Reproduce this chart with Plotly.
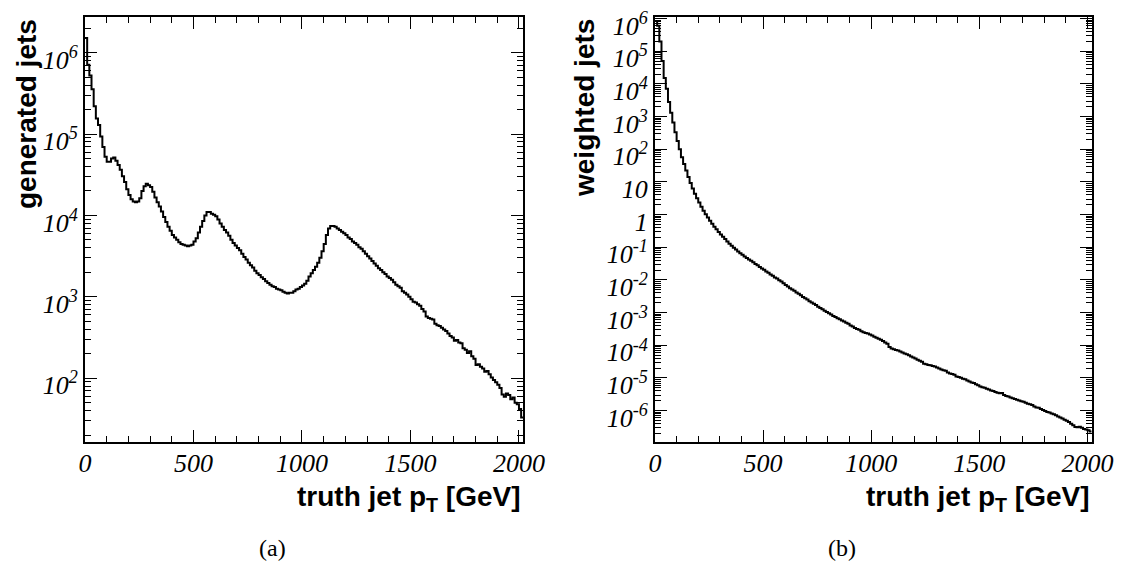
import numpy as np
import plotly.graph_objects as go
from plotly.subplots import make_subplots

# 10 GeV bins from 0 to 2020 GeV
bin_edges = list(range(0, 2030, 10))

gen_jets = [
    1.51e6, 7.08e5, 5.25e5, 3.55e5, 2.19e5, 1.55e5, 1.29e5, 9.33e4, 6.92e4, 5.25e4,
    4.57e4, 4.57e4, 5.01e4, 5.13e4, 4.68e4, 4.17e4, 3.63e4, 3.02e4, 2.57e4, 2.09e4,
    1.78e4, 1.58e4, 1.48e4, 1.45e4, 1.48e4, 1.62e4, 2.00e4, 2.29e4, 2.45e4, 2.34e4,
    2.24e4, 1.95e4, 1.66e4, 1.45e4, 1.29e4, 1.12e4, 9.55e3, 8.32e3, 7.24e3, 6.46e3,
    5.75e3, 5.37e3, 5.01e3, 4.68e3, 4.47e3, 4.37e3, 4.27e3, 4.17e3, 4.27e3, 4.37e3,
    4.79e3, 5.25e3, 6.17e3, 7.24e3, 8.51e3, 1.00e4, 1.10e4, 1.10e4, 1.05e4, 1.02e4,
    9.77e3, 8.91e3, 7.94e3, 7.24e3, 6.61e3, 6.17e3, 5.62e3, 5.01e3, 4.57e3, 4.27e3,
    3.98e3, 3.72e3, 3.39e3, 3.09e3, 2.88e3, 2.63e3, 2.45e3, 2.29e3, 2.09e3, 1.95e3,
    1.86e3, 1.74e3, 1.66e3, 1.55e3, 1.48e3, 1.41e3, 1.35e3, 1.32e3, 1.26e3, 1.23e3,
    1.20e3, 1.15e3, 1.12e3, 1.10e3, 1.12e3, 1.12e3, 1.17e3, 1.23e3, 1.26e3, 1.32e3,
    1.38e3, 1.45e3, 1.58e3, 1.78e3, 1.95e3, 2.14e3, 2.34e3, 2.63e3, 3.02e3, 3.63e3,
    4.47e3, 5.75e3, 6.92e3, 7.41e3, 7.41e3, 7.24e3, 6.92e3, 6.61e3, 6.31e3, 6.03e3,
    5.75e3, 5.37e3, 5.13e3, 4.79e3, 4.57e3, 4.37e3, 4.07e3, 3.89e3, 3.63e3, 3.39e3,
    3.16e3, 2.95e3, 2.75e3, 2.57e3, 2.40e3, 2.24e3, 2.14e3, 2.00e3, 1.91e3, 1.78e3,
    1.70e3, 1.62e3, 1.51e3, 1.41e3, 1.35e3, 1.29e3, 1.17e3, 1.12e3, 1.07e3, 1.00e3,
    933, 871, 851, 813, 776, 708, 661, 575, 550, 537,
    525, 468, 447, 437, 417, 398, 380, 355, 331, 316,
    288, 295, 275, 269, 234, 224, 204, 214, 186, 174,
    145, 148, 138, 132, 120, 123, 112, 102, 95, 89,
    83, 76, 63, 59, 65, 62, 55, 58, 50, 48,
    42, 33,
]

weighted_jets = [
    8.51e5, 6.03e5, 2.00e5, 5.01e4, 1.51e4, 7.08e3, 2.82e3, 1.32e3, 661, 331,
    178, 100, 57.5, 35.5, 22.4, 14.1, 9.33, 6.31, 4.37, 3.16,
    2.34, 1.74, 1.32, 1.02, 0.813, 0.646, 0.525, 0.427, 0.355, 0.295,
    0.245, 0.209, 0.178, 0.151, 0.129, 0.112, 9.77e-2, 8.51e-2, 7.41e-2, 6.61e-2,
    5.89e-2, 5.25e-2, 4.68e-2, 4.27e-2, 3.89e-2, 3.47e-2, 3.09e-2, 2.82e-2, 2.51e-2, 2.24e-2,
    2.04e-2, 1.82e-2, 1.66e-2, 1.48e-2, 1.35e-2, 1.20e-2, 1.10e-2, 9.77e-3, 8.91e-3, 7.94e-3,
    7.08e-3, 6.31e-3, 5.62e-3, 5.13e-3, 4.68e-3, 4.17e-3, 3.80e-3, 3.39e-3, 3.02e-3, 2.75e-3,
    2.51e-3, 2.24e-3, 2.04e-3, 1.86e-3, 1.70e-3, 1.51e-3, 1.38e-3, 1.26e-3, 1.15e-3, 1.05e-3,
    9.55e-4, 8.71e-4, 7.94e-4, 7.41e-4, 6.76e-4, 6.31e-4, 5.75e-4, 5.37e-4, 4.90e-4, 4.57e-4,
    4.07e-4, 3.80e-4, 3.39e-4, 3.16e-4, 3.02e-4, 2.69e-4, 2.51e-4, 2.40e-4, 2.29e-4, 2.14e-4,
    2.00e-4, 1.82e-4, 1.70e-4, 1.58e-4, 1.48e-4, 1.35e-4, 1.23e-4, 1.12e-4, 8.91e-5, 7.94e-5,
    7.59e-5, 7.24e-5, 6.92e-5, 6.46e-5, 6.03e-5, 5.62e-5, 5.37e-5, 5.01e-5, 4.57e-5, 4.27e-5,
    3.98e-5, 3.63e-5, 3.39e-5, 3.16e-5, 2.75e-5, 2.63e-5, 2.51e-5, 2.45e-5, 2.34e-5, 2.24e-5,
    2.09e-5, 1.95e-5, 1.82e-5, 1.74e-5, 1.66e-5, 1.48e-5, 1.38e-5, 1.32e-5, 1.26e-5, 1.12e-5,
    1.07e-5, 1.02e-5, 9.55e-6, 9.12e-6, 8.32e-6, 7.76e-6, 7.24e-6, 7.08e-6, 6.46e-6, 6.03e-6,
    5.50e-6, 5.25e-6, 5.01e-6, 4.68e-6, 4.47e-6, 4.17e-6, 3.98e-6, 3.72e-6, 3.55e-6, 3.39e-6,
    3.47e-6, 3.02e-6, 2.82e-6, 2.69e-6, 2.51e-6, 2.40e-6, 2.29e-6, 2.14e-6, 2.04e-6, 1.95e-6,
    1.86e-6, 1.74e-6, 1.62e-6, 1.58e-6, 1.48e-6, 1.35e-6, 1.26e-6, 1.23e-6, 1.12e-6, 1.05e-6,
    9.77e-7, 9.12e-7, 8.71e-7, 8.13e-7, 7.76e-7, 7.24e-7, 6.61e-7, 6.17e-7, 5.75e-7, 5.25e-7,
    4.90e-7, 4.47e-7, 3.98e-7, 3.55e-7, 3.16e-7, 3.09e-7, 3.24e-7, 3.02e-7, 2.75e-7, 2.63e-7,
    2.51e-7, 2.29e-7,
]

x_ticks = [0, 500, 1000, 1500, 2000]
gen_decades = [2, 3, 4, 5, 6]
weighted_decades = [-6, -5, -4, -3, -2, -1, 0, 1, 2, 3, 4, 5, 6]

# the page body has an 8px margin: the figure starts at (8, 8) on the page
PAGE_W, PAGE_H, PAD = 1125, 563, 8
FW, FH = PAGE_W - 2 * PAD, PAGE_H - PAD
TICK_FONT = dict(family="Liberation Serif", size=26, color="black", style="italic")
TITLE_FONT = dict(family="Liberation Sans", size=28, color="black")


def px(x):
    return (x - PAD) / FW


def py(y):
    return 1 - (y - PAD) / FH


def decade_label(d):
    if d == 0:
        return "1"
    if d == 1:
        return "10"
    return "10<sup>%d</sup>" % d


def minor_log_ticks(lo, hi):
    vals = []
    for d in range(int(np.floor(lo)), int(np.ceil(hi)) + 1):
        for m in range(2, 10):
            v = m * 10.0 ** d
            if lo <= np.log10(v) <= hi:
                vals.append(v)
    return vals


def step_xy(edges, values):
    return list(edges), list(values) + [values[-1]]


fig = make_subplots(rows=1, cols=2)

for col, vals in [(1, gen_jets), (2, weighted_jets)]:
    xs, ys = step_xy(bin_edges, vals)
    fig.add_trace(
        go.Scatter(
            x=xs,
            y=ys,
            mode="lines",
            line=dict(color="black", width=2, shape="hv"),
            showlegend=False,
        ),
        row=1,
        col=col,
    )

y_dom = [py(441.7), py(17.3)]
panels = [
    dict(col=1, xdom=[px(85), px(523.3)], yrange=[1.22, 6.434], decades=gen_decades),
    dict(col=2, xdom=[px(655), px(1091.7)], yrange=[-6.95, 6.04], decades=weighted_decades),
]

for p in panels:
    fig.update_xaxes(
        domain=p["xdom"],
        range=[0, 2020],
        tickvals=x_ticks,
        ticktext=[str(v) for v in x_ticks],
        ticks="inside",
        ticklen=12,
        tickwidth=1,
        tickcolor="black",
        minor=dict(dtick=100, tick0=0, ticks="inside", ticklen=6, tickwidth=1, tickcolor="black"),
        showline=True,
        linecolor="black",
        linewidth=2,
        mirror="allticks",
        showgrid=False,
        zeroline=False,
        automargin=False,
        ticklabeloverflow="allow",
        ticklabelstandoff=-3,
        tickfont=TICK_FONT,
        row=1,
        col=p["col"],
    )
    fig.update_yaxes(
        domain=y_dom,
        type="log",
        range=p["yrange"],
        tickvals=[10.0 ** d for d in p["decades"]],
        ticktext=[decade_label(d) for d in p["decades"]],
        ticks="inside",
        ticklen=12,
        tickwidth=1,
        tickcolor="black",
        minor=dict(
            tickmode="array",
            tickvals=minor_log_ticks(*p["yrange"]),
            ticks="inside",
            ticklen=6,
            tickwidth=1,
            tickcolor="black",
        ),
        showline=True,
        linecolor="black",
        linewidth=2,
        mirror="allticks",
        showgrid=False,
        zeroline=False,
        automargin=False,
        ticklabeloverflow="allow",
        ticklabelshift=7,
        tickfont=TICK_FONT,
        row=1,
        col=p["col"],
    )

# axis titles, placed ROOT style (right / top aligned)
for xr, yx, txt in [(523.3, 26, "generated jets"), (1091.7, 584, "weighted jets")]:
    fig.add_annotation(
        x=px(xr), y=py(498), xref="paper", yref="paper",
        text="<b>truth jet p<sub>T</sub> [GeV]</b>",
        xanchor="right", yanchor="middle", showarrow=False, font=TITLE_FONT,
    )
    fig.add_annotation(
        x=px(yx), y=py(17), xref="paper", yref="paper",
        text="<b>%s</b>" % txt, textangle=-90,
        xanchor="center", yanchor="top", showarrow=False, font=TITLE_FONT,
    )

for cx, lab in [(272, "(a)"), (842, "(b)")]:
    fig.add_annotation(
        x=px(cx), y=py(548), xref="paper", yref="paper",
        text=lab, xanchor="center", yanchor="middle", showarrow=False,
        font=dict(family="Liberation Serif", size=24, color="black"),
    )

fig.update_layout(
    width=FW,
    height=FH,
    margin=dict(l=0, r=0, t=0, b=0, autoexpand=False),
    paper_bgcolor="white",
    plot_bgcolor="white",
)

fig.write_html("out.html")
